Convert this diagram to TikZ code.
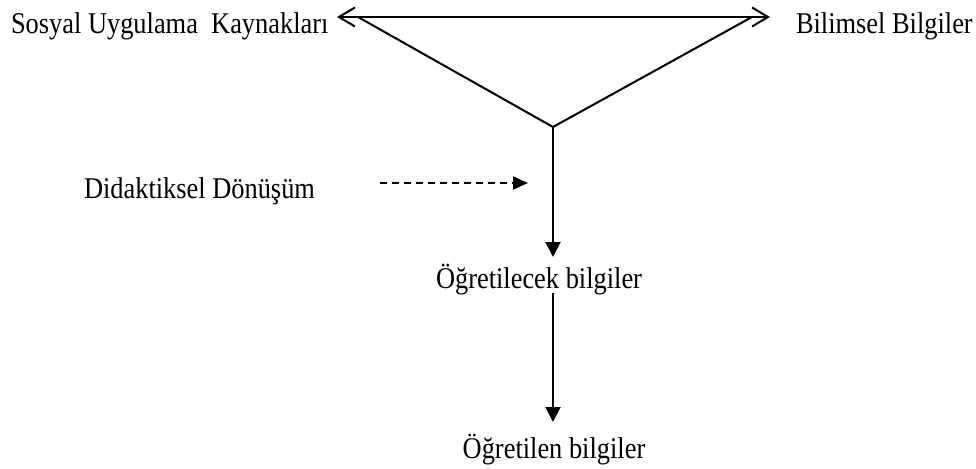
\documentclass[tikz,border=0pt]{standalone}
\usepackage{fontspec}
\setmainfont{Liberation Serif}
\usepackage{tikz}
\usetikzlibrary{arrows.meta}
\usetikzlibrary{calc}
\newcommand{\tall}[1]{\scalebox{1}[1.14]{#1}}

\begin{document}
\begin{tikzpicture}[x=0.5pt,y=0.5pt,line width=1pt,
  every node/.style={inner sep=0pt,font=\fontsize{13.2}{15}\selectfont},
  opentip/.style={{Straight Barb[length=8pt,width=9.5pt]}-{Straight Barb[length=8pt,width=9.5pt]}},
  filltip/.style={-{Triangle[length=7.5pt,width=7.5pt]}},
  dashtip/.style={-{Triangle[length=7.5pt,width=6.5pt]},dash pattern=on 3.3pt off 2.7pt}]
\useasboundingbox (0,0) rectangle (976,468);
% labels
\draw(10,435) node[anchor=base west] (sosyal) {\tall{Sosyal Uygulama~ Kaynakları}};
\draw(795,435) node[anchor=base west] (bilimsel) {\tall{Bilimsel Bilgiler}};
\draw(83,270) node[anchor=base west] (didak) {\tall{Didaktiksel Dönüşüm}};
\draw(435,180) node[anchor=base west] (ogretilecek) {\tall{Öğretilecek bilgiler}};
\draw(554,10) node[anchor=base] (ogretilen) {\tall{Öğretilen bilgiler}};
% triangle
\coordinate (L) at (337,451);
\coordinate (R) at (770,451);
\coordinate (Lt) at (358,451);
\coordinate (Rt) at (752,451);
\coordinate (apex) at (553,341);
\draw[opentip] (L) -- (R);
\draw (Lt) -- (apex) -- (Rt);
% arrows down
\coordinate (t1) at (553,211);
\coordinate (s2) at (553,175);
\coordinate (t2) at (553,46);
\draw[filltip] (apex) -- (t1);
\draw[filltip] (s2) -- (t2);
\coordinate (d1) at (380,285);
\coordinate (d2) at (528,285);
\draw[dashtip] (d1) -- (d2);
\end{tikzpicture}
\end{document}
